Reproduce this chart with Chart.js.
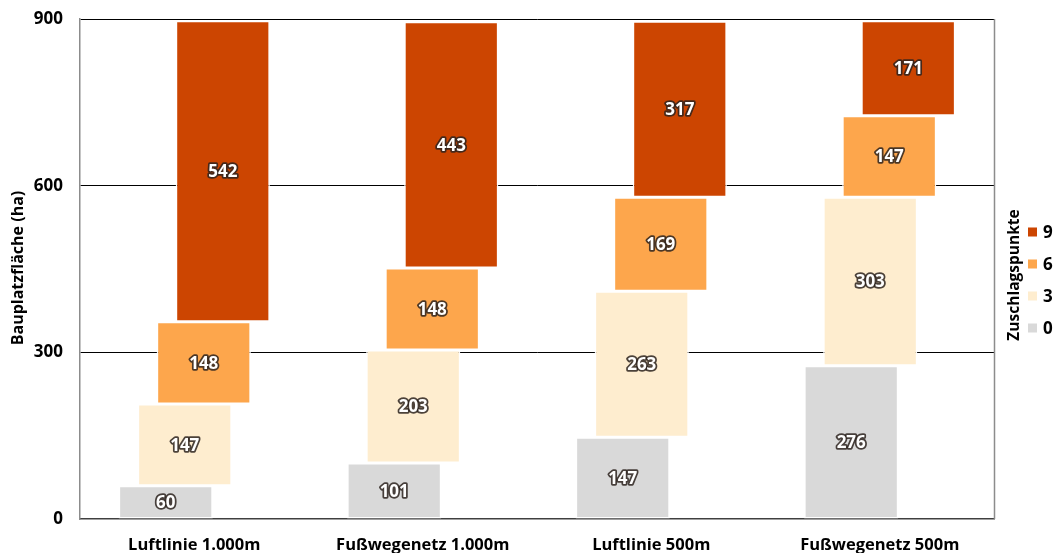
<!DOCTYPE html>
<html>
<head>
<meta charset="utf-8">
<script src="https://cdn.jsdelivr.net/npm/chart.js@4.4.1/dist/chart.umd.min.js"></script>
<style>
  html, body { margin: 0; padding: 0; background: #fff; }
  #wrap { width: 1058px; height: 553px; position: relative; }
</style>
</head>
<body>
<div id="wrap"><canvas id="c" width="1058" height="553"></canvas></div>
<script>
const categories = ['Luftlinie 1.000m', 'Fußwegenetz 1.000m', 'Luftlinie 500m', 'Fußwegenetz 500m'];
const seriesNames = ['0', '3', '6', '9'];
const points0 = [60, 101, 147, 276];
const points3 = [147, 203, 263, 303];
const points6 = [148, 148, 169, 147];
const points9 = [542, 443, 317, 171];
const yTicks = [0, 300, 600, 900];
const colors = ['#D9D9D9', '#FEEDCF', '#FDA64C', '#CC4501'];

const FONT = "'Open Sans', 'DejaVu Sans', sans-serif";
const seriesValues = [points0, points3, points6, points9];

// floating ranges: each segment starts where previous ends
const datasets = seriesValues.map((vals, si) => {
  const data = vals.map((v, ci) => {
    let start = 0;
    for (let k = 0; k < si; k++) start += seriesValues[k][ci];
    return [start, start + v];
  });
  return {
    label: seriesNames[si],
    data: data,
    rawValues: vals,
    backgroundColor: colors[si],
    borderColor: 'rgba(255,255,255,0.95)',
    borderWidth: 1.5,
    borderSkipped: false,
    categoryPercentage: 0.333,
    barPercentage: 4.95
  };
});

const labelPlugin = {
  id: 'barLabels',
  afterDatasetsDraw(chart) {
    const ctx = chart.ctx;
    ctx.save();
    ctx.font = 'bold 17px ' + FONT;
    ctx.textAlign = 'center';
    ctx.textBaseline = 'middle';
    ctx.lineJoin = 'round';
    chart.data.datasets.forEach((ds, di) => {
      const meta = chart.getDatasetMeta(di);
      meta.data.forEach((el, i) => {
        const p = el.getCenterPoint();
        const txt = String(ds.rawValues[i]);
        ctx.strokeStyle = 'rgba(45,35,30,0.85)';
        ctx.lineWidth = 3.5;
        ctx.strokeText(txt, p.x, p.y + 1);
        ctx.fillStyle = '#ffffff';
        ctx.fillText(txt, p.x, p.y + 1);
      });
    });
    ctx.restore();
  }
};

const decorPlugin = {
  id: 'decor',
  afterDraw(chart) {
    const ctx = chart.ctx;
    const area = chart.chartArea;
    ctx.save();
    // right frame line
    ctx.strokeStyle = '#8c8c8c';
    ctx.lineWidth = 1.5;
    ctx.beginPath();
    ctx.moveTo(area.right + 0.5, area.top);
    ctx.lineTo(area.right + 0.5, area.bottom);
    ctx.stroke();

    // y-axis title
    ctx.fillStyle = '#000';
    ctx.font = 'bold 16px ' + FONT;
    ctx.textAlign = 'center';
    ctx.textBaseline = 'middle';
    ctx.save();
    ctx.translate(18, 268);
    ctx.rotate(-Math.PI / 2);
    ctx.fillText('Bauplatzfläche (ha)', 0, 0);
    ctx.restore();

    // legend title
    ctx.font = 'bold 15.5px ' + FONT;
    ctx.save();
    ctx.translate(1015, 275);
    ctx.rotate(-Math.PI / 2);
    ctx.fillText('Zuschlagspunkte', 0, 0);
    ctx.restore();

    // legend items (reverse order: 9 at top)
    const ys = [232, 264, 296, 328];
    ctx.font = 'bold 17px ' + FONT;
    ctx.textAlign = 'left';
    for (let k = 0; k < seriesNames.length; k++) {
      const si = seriesNames.length - 1 - k;
      ctx.fillStyle = colors[si];
      ctx.fillRect(1028, ys[k] - 4.5, 9, 9);
      ctx.fillStyle = '#000';
      ctx.fillText(seriesNames[si], 1043, ys[k] + 1);
    }
    ctx.restore();
  }
};

new Chart(document.getElementById('c'), {
  type: 'bar',
  data: { labels: categories, datasets: datasets },
  options: {
    responsive: false,
    animation: false,
    devicePixelRatio: 1,
    layout: { padding: { left: 0, top: 19, right: 64, bottom: 0 } },
    plugins: {
      legend: { display: false },
      tooltip: { enabled: false }
    },
    scales: {
      x: {
        stacked: false,
        grid: { display: false, drawTicks: false },
        border: { display: true, color: '#404040', width: 1.5 },
        ticks: {
          color: '#000',
          padding: 16,
          font: { family: FONT, size: 16.5, weight: 'bold' },
          maxRotation: 0
        },
        afterFit(s) { s.height = 34; }
      },
      y: {
        stacked: false,
        min: 0,
        max: 900,
        afterBuildTicks(s) { s.ticks = yTicks.map(v => ({ value: v })); },
        grid: {
          drawTicks: false,
          color: ctx => (ctx.tick && ctx.tick.value === 0 ? 'rgba(0,0,0,0)' : '#000'),
          lineWidth: 1
        },
        border: { display: true, color: '#8c8c8c', width: 1.5 },
        ticks: {
          color: '#000',
          padding: 17,
          font: { family: FONT, size: 17, weight: 'bold' }
        },
        afterFit(s) { s.width = 80; s.paddingTop = 0; s.paddingBottom = 0; }
      }
    }
  },
  plugins: [labelPlugin, decorPlugin]
});
</script>
</body>
</html>
